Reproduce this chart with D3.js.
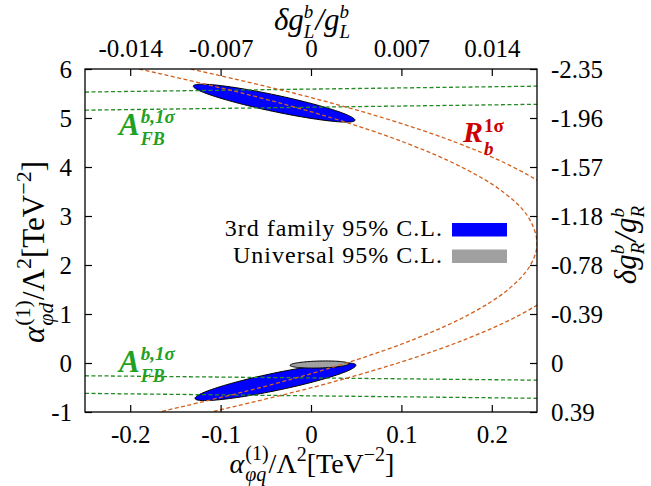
<!DOCTYPE html>
<html><head><meta charset="utf-8">
<script src="https://cdn.jsdelivr.net/npm/d3@7"></script>
<style>body{margin:0;background:#fff} svg{display:block} text{font-family:'Liberation Serif','Times New Roman',serif}</style>
</head><body><div id="chart"></div>
<script>
// ---------- data ----------
const xDomain = [-0.25, 0.25];
const yDomain = [-1, 6];
const xTicks = [-0.2, -0.1, 0, 0.1, 0.2];
const xTickLabels = ["-0.2", "-0.1", "0", "0.1", "0.2"];
const topTickLabels = ["-0.014", "-0.007", "0", "0.007", "0.014"];
const yTicks = [-1, 0, 1, 2, 3, 4, 5, 6];
const yTickLabels = ["-1", "0", "1", "2", "3", "4", "5", "6"];
const rightTickLabels = ["0.39", "0", "-0.39", "-0.78", "-1.18", "-1.57", "-1.96", "-2.35"];

// R_b 1-sigma contours, [x, y]
const rbInner = [[-0.190,6.0],[-0.0745,5.5],[0.0233,5.0],[0.1036,4.5],[0.1664,4.0],[0.2118,3.5],[0.2396,3.0],[0.25,2.455],[0.2428,2.0],[0.2181,1.5],[0.1759,1.0],[0.1162,0.5],[0.0391,0.0],[-0.0556,-0.5],[-0.1678,-1.0]];
const rbOuter = [[-0.133,6.0],[-0.0175,5.5],[0.0803,5.0],[0.1606,4.5],[0.2234,4.0],[0.2688,3.5],[0.2966,3.0],[0.307,2.455],[0.2998,2.0],[0.2751,1.5],[0.2329,1.0],[0.1732,0.5],[0.0961,0.0],[0.0014,-0.5],[-0.1108,-1.0]];

// A_FB 1-sigma band edges (straight lines), [x, y]
const afbUpperA = [[-0.25, 5.53], [0.25, 5.65]];
const afbUpperB = [[-0.25, 5.16], [0.25, 5.28]];
const afbLowerA = [[-0.25, -0.26], [0.25, -0.35]];
const afbLowerB = [[-0.25, -0.62], [0.25, -0.72]];

// 95% C.L. regions: centre, half major-axis vector, half minor-axis vector (data units)
const thirdFamily = [
  {cx: -0.0408, cy: 5.303, ax: 0.0894, ay: -0.350, bx: -0.00184, by: -0.165},
  {cx: -0.0393, cy: -0.383, ax: 0.0890, ay: 0.3415, bx: 0.00192, by: -0.175}
];
const universal = [
  {cx: 0.0094, cy: -0.031, ax: 0.0326, ay: 0.016, bx: 0.0, by: -0.071}
];

const legendLabels = ["3rd family 95% C.L.", "Universal 95% C.L."];

// ---------- layout ----------
const W = 651, H = 486;
const M = {left: 85, right: 114, top: 69, bottom: 74};
const FONT = "'Liberation Serif','Times New Roman',serif";
const COL_BLUE = "#0000ff", COL_GRAY = "#a0a0a0";
const COL_ORANGE = "#d2601e", COL_GREEN_LINE = "#228b22", COL_GREEN_TXT = "#22a022", COL_RED = "#cc0000";

const svg = d3.select("#chart").append("svg").attr("width", W).attr("height", H);
const x = d3.scaleLinear().domain(xDomain).range([M.left, W - M.right]);
const y = d3.scaleLinear().domain(yDomain).range([H - M.bottom, M.top]);

svg.append("clipPath").attr("id", "clip").append("rect")
  .attr("x", M.left).attr("y", M.top)
  .attr("width", W - M.left - M.right).attr("height", H - M.top - M.bottom);

const plot = svg.append("g").attr("clip-path", "url(#clip)");

// ellipses
function ellipsePath(e) {
  const pts = d3.range(0, 361, 3).map(d => {
    const t = d * Math.PI / 180;
    return [x(e.cx + e.ax * Math.cos(t) + e.bx * Math.sin(t)), y(e.cy + e.ay * Math.cos(t) + e.by * Math.sin(t))];
  });
  return d3.line()(pts) + "Z";
}
plot.selectAll("path.third").data(thirdFamily).join("path").attr("class", "third")
  .attr("d", ellipsePath).attr("fill", COL_BLUE).attr("stroke", "#000").attr("stroke-width", 1);
plot.selectAll("path.univ").data(universal).join("path").attr("class", "univ")
  .attr("d", ellipsePath).attr("fill", COL_GRAY).attr("stroke", "#000").attr("stroke-width", 1);

// lines
const line = d3.line().x(d => x(d[0])).y(d => y(d[1]));
const curve = d3.line().x(d => x(d[0])).y(d => y(d[1])).curve(d3.curveCatmullRom.alpha(0.5));
[afbUpperA, afbUpperB, afbLowerA, afbLowerB].forEach(l => {
  plot.append("path").attr("d", line(l)).attr("fill", "none")
    .attr("stroke", COL_GREEN_LINE).attr("stroke-width", 1.3).attr("stroke-dasharray", "4,2.5");
});
[rbInner, rbOuter].forEach(l => {
  plot.append("path").attr("d", curve(l)).attr("fill", "none")
    .attr("stroke", COL_ORANGE).attr("stroke-width", 1.3).attr("stroke-dasharray", "4,2.5");
});

// frame
svg.append("rect").attr("x", M.left).attr("y", M.top)
  .attr("width", W - M.left - M.right).attr("height", H - M.top - M.bottom)
  .attr("fill", "none").attr("stroke", "#000").attr("stroke-width", 1.3);

// axes (ticks inward)
const TL = 7, TFS = 25;
function styleAxis(g) {
  g.attr("font-family", FONT).attr("font-size", TFS);
  g.select(".domain").remove();
  g.selectAll(".tick line").attr("stroke", "#000").attr("stroke-width", 1.2);
  g.selectAll(".tick text").attr("font-family", FONT).attr("font-size", TFS).attr("fill", "#000");
}
svg.append("g").attr("transform", `translate(0,${H - M.bottom})`)
  .call(d3.axisBottom(x).tickValues(xTicks).tickFormat((d, i) => xTickLabels[i]).tickSizeInner(-TL).tickSizeOuter(0).tickPadding(13))
  .call(styleAxis);
svg.append("g").attr("transform", `translate(0,${M.top})`)
  .call(d3.axisTop(x).tickValues(xTicks).tickFormat((d, i) => topTickLabels[i]).tickSizeInner(-TL).tickSizeOuter(0).tickPadding(12))
  .call(styleAxis);
svg.append("g").attr("transform", `translate(${M.left},0)`)
  .call(d3.axisLeft(y).tickValues(yTicks).tickFormat((d, i) => yTickLabels[i]).tickSizeInner(-TL).tickSizeOuter(0).tickPadding(13))
  .call(styleAxis);
svg.append("g").attr("transform", `translate(${W - M.right},0)`)
  .call(d3.axisRight(y).tickValues(yTicks).tickFormat((d, i) => rightTickLabels[i]).tickSizeInner(-TL).tickSizeOuter(0).tickPadding(14))
  .call(styleAxis);

// rich text helper
function rich(parts, o) {
  const g = svg.append("g");
  const inner = g.append("g");
  let cur = 0, prevStart = 0, prevW = 0;
  parts.forEach(p => {
    const t = inner.append("text").text(p.t)
      .attr("font-family", FONT).attr("font-size", p.size)
      .attr("font-style", p.it ? "italic" : "normal")
      .attr("font-weight", p.b ? "bold" : "normal")
      .attr("fill", o.color || "#000")
      .attr("y", p.dy || 0);
    const w = t.node().getComputedTextLength();
    let start;
    if (p.stack) {
      start = prevStart;
      cur = Math.max(prevStart + prevW, start + w);
      prevW = Math.max(prevW, w);
    } else {
      start = cur + (p.dx || 0);
      cur = start + w;
      prevStart = start; prevW = w;
    }
    t.attr("x", start);
  });
  const shift = o.anchor === "middle" ? -cur / 2 : (o.anchor === "end" ? -cur : 0);
  inner.attr("transform", `translate(${shift},0)`);
  g.attr("transform", `translate(${o.x},${o.y})` + (o.rot ? ` rotate(${o.rot})` : ""));
  return g;
}

// axis titles
function alphaTitle(sub, bs, ss) {
  return [
    {t: "α", size: bs, it: true},
    {t: "(1)", size: ss, dy: -0.46 * bs, dx: 1},
    {t: sub, size: ss, it: true, dy: 0.29 * bs, stack: true},
    {t: "/Λ", size: bs},
    {t: "2", size: ss, dy: -0.43 * bs},
    {t: "[TeV", size: bs},
    {t: "−2", size: ss, dy: -0.43 * bs},
    {t: "]", size: bs}
  ];
}
rich(alphaTitle("φq", 28, 20), {x: 312, y: 473, anchor: "middle"});
rich(alphaTitle("φd", 31, 22), {x: 44, y: 252, anchor: "middle", rot: -90});

function deltaTitle(s) {
  return [
    {t: "δg", size: 31, it: true},
    {t: "b", size: 19, it: true, dy: -12},
    {t: s, size: 19, it: true, dy: 8, stack: true},
    {t: "/g", size: 31, it: true, dx: 1},
    {t: "b", size: 19, it: true, dy: -12},
    {t: s, size: 19, it: true, dy: 8, stack: true}
  ];
}
rich(deltaTitle("L"), {x: 312, y: 30, anchor: "middle"});
rich(deltaTitle("R"), {x: 636, y: 245, anchor: "middle", rot: -90});

// annotation labels
const afbParts = [
  {t: "A", size: 31, it: true, b: true},
  {t: "b,1σ", size: 19, it: true, b: true, dy: -12, dx: 1},
  {t: "FB", size: 18, it: true, b: true, dy: 10, stack: true}
];
rich(afbParts, {x: 119, y: 135, color: COL_GREEN_TXT});
rich(afbParts, {x: 119, y: 372, color: COL_GREEN_TXT});
rich([
  {t: "R", size: 30, it: true, b: true},
  {t: "1σ", size: 19, b: true, dy: -10, dx: 1},
  {t: "b", size: 19, it: true, b: true, dy: 13, stack: true}
], {x: 463, y: 142, color: COL_RED});

// legend
const legColors = [COL_BLUE, COL_GRAY];
legendLabels.forEach((lab, i) => {
  const by = 236 + i * 26.5;
  svg.append("text").text(lab).attr("x", 443).attr("y", by)
    .attr("text-anchor", "end").attr("font-family", FONT).attr("font-size", 24)
    .attr("letter-spacing", 1).attr("fill", "#000");
  svg.append("rect").attr("x", 452).attr("y", by - 13).attr("width", 55).attr("height", 13.5)
    .attr("fill", legColors[i]);
});
</script></body></html>
